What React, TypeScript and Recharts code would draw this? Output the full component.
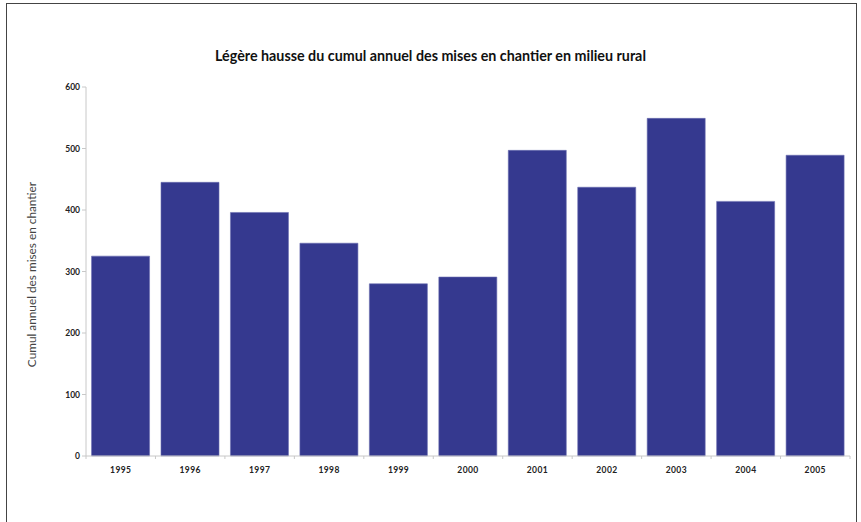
import React from 'react';
import { BarChart, Bar, XAxis, YAxis } from 'recharts';

const years = ['1995', '1996', '1997', '1998', '1999', '2000', '2001', '2002', '2003', '2004', '2005'];
const values = [325, 445, 396, 346, 280, 291, 497, 437, 549, 414, 489];
const yTicks = [0, 100, 200, 300, 400, 500, 600];

const title = 'Légère hausse du cumul annuel des mises en chantier en milieu rural';
const yLabel = 'Cumul annuel des mises en chantier';

const data = years.map((y, i) => ({ year: y, value: values[i] }));

const FONT = 'Lato, "Open Sans", sans-serif';

const XTick = (props: any) => {
  const { x, y, payload } = props;
  const off = payload.offset || 0;
  return (
    <g>
      <line x1={x + off} x2={x + off} y1={y - 8} y2={y - 5} stroke="#c8c8c8" />
      {payload.index === 0 && (
        <line x1={x - off} x2={x - off} y1={y - 8} y2={y - 5} stroke="#c8c8c8" />
      )}
      <text x={x} y={y + 9} textAnchor="middle" fontSize={8.5} fontWeight={700} fill="#222" fontFamily={FONT} letterSpacing={0.4}>
        {payload.value}
      </text>
    </g>
  );
};

const YLabel = (props: any) => {
  const vb = props.viewBox || {};
  const cy = (vb.y || 0) + (vb.height || 0) / 2 + 3;
  const cx = 31;
  return (
    <text x={cx} y={cy} transform={`rotate(-90 ${cx} ${cy})`} textAnchor="middle" dominantBaseline="central" fontSize={11.8} fill="#444" fontFamily={FONT}>
      {yLabel}
    </text>
  );
};

export default function App() {
  return (
    <div style={{ position: 'absolute', left: 0, top: 0, width: 861, height: 522, background: '#fff', overflow: 'hidden' }}>
      <div style={{ position: 'absolute', left: 6, top: 3, width: 849, height: 530, border: '1px solid #444' }} />
      <div style={{ position: 'absolute', left: 0, top: 47, width: 861, textAlign: 'center', fontFamily: FONT, fontWeight: 700, fontSize: 14.3, color: '#111' }}>
        {title}
      </div>
      <div style={{ position: 'absolute', left: 0, top: 0 }}>
        <BarChart width={861} height={522} data={data} margin={{ top: 87, right: 11, bottom: 36, left: 0 }} barCategoryGap="8%">
          <XAxis dataKey="year" stroke="#c8c8c8" tickLine={false} tick={<XTick />} interval={0} />
          <YAxis
            width={86}
            domain={[0, 600]}
            ticks={yTicks}
            stroke="#c8c8c8"
            tickSize={4}
            tick={{ fontSize: 8.5, fontWeight: 700, fill: '#222', fontFamily: FONT }}
            label={<YLabel />}
          />
          <Bar dataKey="value" fill="#35398f" stroke="#6a6db0" strokeWidth={0.6} isAnimationActive={false} />
        </BarChart>
      </div>
    </div>
  );
}
